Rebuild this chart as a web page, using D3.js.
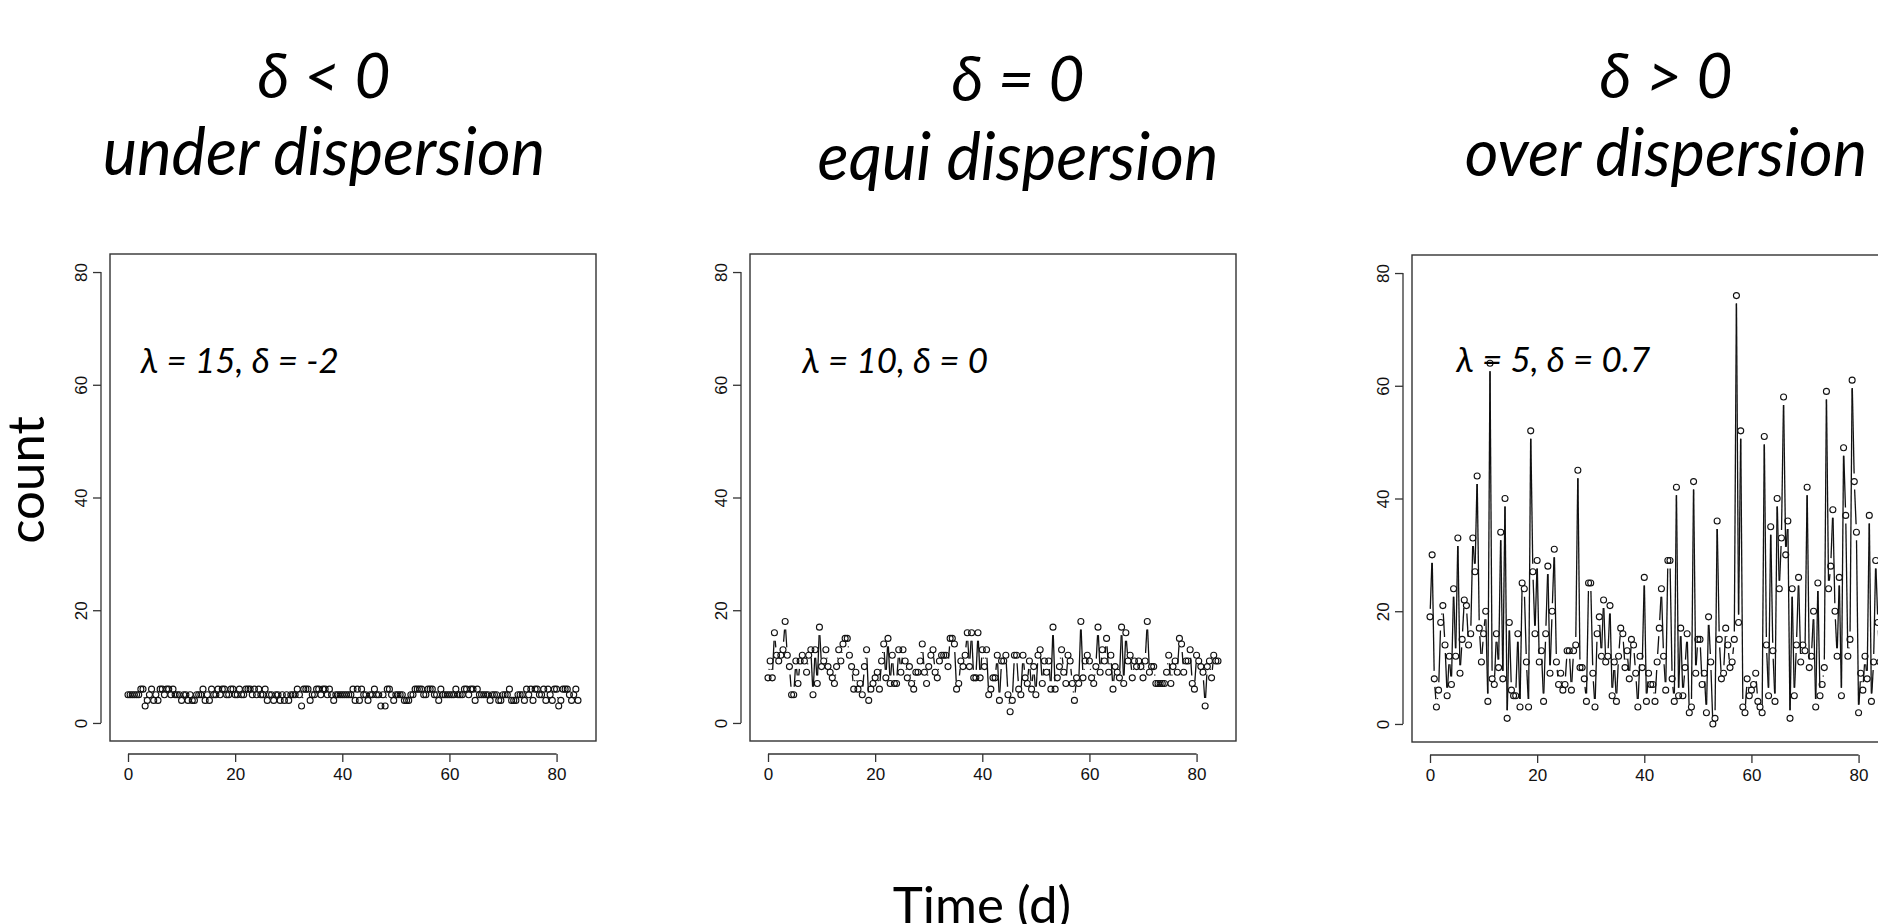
<!DOCTYPE html>
<html>
<head>
<meta charset="utf-8">
<script src="https://cdnjs.cloudflare.com/ajax/libs/d3/7.8.5/d3.min.js"></script>
<style>
  body { margin: 0; background: #fff; overflow: hidden; }
  svg { display: block; }
  .panel-title { font-family: Lato, 'Open Sans', sans-serif; font-style: italic; text-anchor: middle; fill: #000; }
  .panel-note { font-family: Lato, 'Open Sans', sans-serif; font-style: italic; fill: #000; }
  .axis-title { font-family: Lato, 'Open Sans', sans-serif; fill: #000; text-anchor: middle; }
  .tick-label { font-family: 'Liberation Sans', Arial, sans-serif; font-size: 17px; fill: #111; }
</style>
</head>
<body>
<svg id="svg-chart" width="1878" height="924"></svg>
<script>
//////////////////////////////////////////////////////////////////////////////////////////
// Data (counts read off the three simulated series, one value every 0.4 d)
//////////////////////////////////////////////////////////////////////////////////////////

var time_step = 0.4

var x_ticks = [0, 20, 40, 60, 80]
var y_ticks = [0, 20, 40, 60, 80]

var titles_top = ['δ < 0', 'δ = 0', 'δ > 0']
var titles_bottom = ['under dispersion', 'equi dispersion', 'over dispersion']
var notes = ['λ = 15, δ = -2', 'λ = 10, δ = 0', 'λ = 5, δ = 0.7']

var counts_under = [
  5, 5, 5, 5, 5, 5, 6, 6, 3, 4,
  5, 6, 4, 5, 4, 6, 6, 5, 6, 6,
  5, 6, 5, 5, 5, 4, 5, 5, 4, 5,
  4, 4, 5, 5, 5, 6, 4, 5, 4, 6,
  5, 5, 6, 5, 6, 6, 5, 5, 6, 6,
  5, 5, 6, 5, 5, 6, 6, 6, 5, 6,
  5, 6, 5, 5, 6, 4, 5, 5, 4, 5,
  5, 4, 5, 4, 5, 4, 5, 5, 5, 6,
  5, 3, 6, 6, 6, 4, 5, 5, 6, 6,
  5, 6, 6, 5, 6, 5, 4, 5, 5, 5,
  5, 5, 5, 5, 5, 6, 4, 6, 4, 6,
  5, 5, 4, 5, 5, 6, 5, 5, 3, 5,
  3, 6, 6, 5, 4, 5, 5, 5, 5, 4,
  4, 4, 5, 5, 6, 6, 6, 6, 5, 5,
  6, 6, 6, 5, 5, 4, 6, 5, 5, 5,
  5, 5, 5, 6, 5, 5, 5, 6, 6, 5,
  6, 6, 4, 6, 5, 5, 5, 5, 5, 4,
  5, 5, 5, 4, 4, 5, 5, 5, 6, 4,
  4, 4, 5, 5, 5, 4, 6, 5, 6, 4,
  6, 6, 5, 5, 6, 4, 6, 5, 4, 6,
  6, 3, 4, 6, 6, 6, 5, 4, 5, 6,
  4
]

var counts_equi = [
  8, 11, 8, 16, 12, 11, 12, 13, 18, 12,
  10, 5, 5, 11, 7, 11, 12, 11, 9, 12,
  13, 5, 13, 7, 17, 10, 11, 13, 10, 9,
  8, 7, 10, 13, 11, 14, 15, 15, 12, 10,
  6, 9, 6, 7, 5, 10, 13, 4, 6, 7,
  8, 9, 6, 11, 14, 8, 15, 7, 12, 7,
  7, 13, 9, 13, 11, 8, 10, 7, 6, 9,
  9, 11, 14, 9, 7, 10, 12, 13, 9, 8,
  11, 12, 12, 12, 10, 15, 15, 14, 6, 7,
  11, 10, 12, 16, 10, 16, 8, 8, 16, 8,
  13, 10, 13, 5, 6, 8, 8, 12, 4, 11,
  11, 12, 5, 2, 4, 12, 12, 6, 5, 12,
  8, 7, 11, 6, 10, 5, 12, 13, 7, 11,
  9, 11, 6, 17, 6, 8, 10, 13, 9, 7,
  12, 11, 7, 4, 8, 7, 18, 8, 11, 12,
  11, 8, 7, 10, 17, 9, 13, 11, 15, 9,
  12, 6, 10, 9, 8, 17, 7, 16, 11, 12,
  8, 11, 10, 11, 10, 8, 11, 18, 9, 10,
  10, 7, 7, 7, 7, 7, 9, 12, 7, 10,
  11, 9, 15, 14, 9, 11, 11, 13, 7, 6,
  12, 11, 10, 9, 3, 10, 11, 8, 12, 11,
  11
]

var counts_over = [
  19, 30, 8, 3, 6, 18, 21, 14, 5, 12,
  7, 24, 12, 33, 9, 15, 22, 21, 14, 16,
  33, 27, 44, 17, 11, 16, 20, 4, 64, 8,
  7, 16, 10, 34, 8, 40, 1, 18, 6, 5,
  5, 16, 3, 25, 24, 11, 3, 52, 27, 16,
  29, 11, 13, 4, 16, 28, 9, 20, 31, 11,
  7, 9, 6, 7, 13, 13, 6, 13, 14, 45,
  10, 10, 8, 4, 25, 25, 9, 3, 16, 19,
  12, 22, 11, 12, 21, 5, 11, 4, 12, 17,
  16, 10, 13, 8, 15, 14, 9, 3, 12, 10,
  26, 4, 9, 7, 7, 4, 11, 17, 24, 12,
  6, 29, 29, 8, 4, 42, 5, 17, 5, 10,
  16, 2, 3, 43, 9, 15, 15, 7, 9, 2,
  19, 11, 0, 1, 36, 15, 8, 9, 17, 14,
  10, 11, 15, 76, 18, 52, 3, 2, 8, 5,
  6, 7, 9, 4, 3, 2, 51, 14, 5, 35,
  13, 4, 40, 24, 33, 58, 30, 36, 1, 24,
  5, 14, 26, 11, 14, 13, 42, 10, 12, 20,
  3, 25, 5, 7, 10, 59, 24, 28, 38, 20,
  12, 26, 5, 49, 37, 12, 15, 61, 43, 34,
  2, 9, 6, 12, 8, 37, 4, 11, 29, 18,
  11
]

var all_counts = [counts_under, counts_equi, counts_over]

//////////////////////////////////////////////////////////////////////////////////////////
// Layout
//////////////////////////////////////////////////////////////////////////////////////////

var panel_layout = [
  { left: 110,  top: 254, width: 486, height: 487, title_x: 324,  title_y: [98, 175],  note_at: [2.4, 62] },
  { left: 750,  top: 254, width: 486, height: 487, title_x: 1018, title_y: [101, 180], note_at: [6.4, 62] },
  { left: 1412, top: 255, width: 486, height: 487, title_x: 1666, title_y: [98, 176],  note_at: [4.9, 62.5] }
]

var x_domain = [0, 84]
var y_domain = [0, 80]
var point_radius = 3
var line_gap = 8      // R type = 'b' leaves a gap round every point

var svg = d3.select('#svg-chart')

//////////////////////////////////////////////////////////////////////////////////////////
// Draw panels
//////////////////////////////////////////////////////////////////////////////////////////

all_counts.forEach(function(counts, k) {
  draw_panel(counts, k)
})

draw_axis_titles()

function pad_domain(domain) {
  // R default: extend the range by 4% at each end
  var pad = (domain[1] - domain[0]) * 0.04
  return [domain[0] - pad, domain[1] + pad]
}

function draw_panel(counts, k) {
  var lay = panel_layout[k]
  var g = svg.append('g').attr('id', 'g-panel-' + k)

  var x = d3.scaleLinear()
    .domain(pad_domain(x_domain))
    .range([lay.left, lay.left + lay.width])
  var y = d3.scaleLinear()
    .domain(pad_domain(y_domain))
    .range([lay.top + lay.height, lay.top])

  var pts = counts.map(function(v, i) {
    return { t: i * time_step, v: v }
  })

  // Titles
  g.append('text')
    .attr('class', 'panel-title')
    .attr('x', lay.title_x)
    .attr('y', lay.title_y[0])
    .style('font-size', '62px')
    .text(titles_top[k])

  g.append('text')
    .attr('class', 'panel-title')
    .attr('x', lay.title_x)
    .attr('y', lay.title_y[1])
    .style('font-size', '65px')
    .text(titles_bottom[k])

  // Plot box
  g.append('rect')
    .attr('x', lay.left)
    .attr('y', lay.top)
    .attr('width', lay.width)
    .attr('height', lay.height)
    .attr('fill', 'none')
    .attr('stroke', '#333')
    .attr('stroke-width', 1.4)

  // Axes, drawn a little away from the box
  var x_axis = d3.axisBottom(x)
    .tickValues(x_ticks)
    .tickSize(8)
    .tickPadding(4)
    .tickSizeOuter(0)
  var gx = g.append('g')
    .attr('transform', 'translate(0,' + (lay.top + lay.height + 13) + ')')
    .call(x_axis)
  style_axis(gx)
  gx.select('.domain').attr('d', 'M' + x(x_ticks[0]) + ',0H' + x(x_ticks[x_ticks.length - 1]))
  gx.selectAll('text').attr('class', 'tick-label').attr('dy', '0.85em')

  var y_axis = d3.axisLeft(y)
    .tickValues(y_ticks)
    .tickSize(8)
    .tickSizeOuter(0)
  var gy = g.append('g')
    .attr('transform', 'translate(' + (lay.left - 9) + ',0)')
    .call(y_axis)
  style_axis(gy)
  gy.select('.domain').attr('d', 'M0,' + y(y_ticks[0]) + 'V' + y(y_ticks[y_ticks.length - 1]))
  gy.selectAll('text')
    .attr('class', 'tick-label')
    .attr('x', null)
    .attr('dy', null)
    .attr('transform', 'translate(-14,0) rotate(-90)')
    .attr('text-anchor', 'middle')

  // Connecting segments with gaps (type = 'b')
  var segs = []
  for (var i = 1; i < pts.length; i++) {
    var x0 = x(pts[i - 1].t), y0 = y(pts[i - 1].v)
    var x1 = x(pts[i].t), y1 = y(pts[i].v)
    var len = Math.hypot(x1 - x0, y1 - y0)
    var f = line_gap / len
    if (f < 0.5) {
      segs.push([x0 + f * (x1 - x0), y0 + f * (y1 - y0), x1 - f * (x1 - x0), y1 - f * (y1 - y0)])
    }
  }
  g.append('g')
    .selectAll('line')
    .data(segs)
    .enter()
    .append('line')
    .attr('x1', function(d) { return d[0] })
    .attr('y1', function(d) { return d[1] })
    .attr('x2', function(d) { return d[2] })
    .attr('y2', function(d) { return d[3] })
    .attr('stroke', '#111')
    .attr('stroke-width', 1.3)

  // Open circles
  g.append('g')
    .selectAll('circle')
    .data(pts)
    .enter()
    .append('circle')
    .attr('cx', function(d) { return x(d.t) })
    .attr('cy', function(d) { return y(d.v) })
    .attr('r', point_radius)
    .attr('fill', 'none')
    .attr('stroke', '#111')
    .attr('stroke-width', 1.1)

  // Parameter note
  g.append('text')
    .attr('class', 'panel-note')
    .attr('x', x(lay.note_at[0]))
    .attr('y', y(lay.note_at[1]))
    .style('font-size', '35px')
    .text(notes[k])
}

function style_axis(sel) {
  sel.select('.domain').attr('stroke', '#333').attr('stroke-width', 1.3)
  sel.selectAll('.tick line').attr('stroke', '#333').attr('stroke-width', 1.3)
}

//////////////////////////////////////////////////////////////////////////////////////////
// Shared axis titles
//////////////////////////////////////////////////////////////////////////////////////////

function draw_axis_titles() {
  svg.append('text')
    .attr('class', 'axis-title')
    .attr('transform', 'translate(44,480) rotate(-90)')
    .style('font-size', '51px')
    .text('count')

  svg.append('text')
    .attr('class', 'axis-title')
    .attr('x', 982)
    .attr('y', 923)
    .style('font-size', '51px')
    .text('Time (d)')
}
</script>
</body>
</html>
